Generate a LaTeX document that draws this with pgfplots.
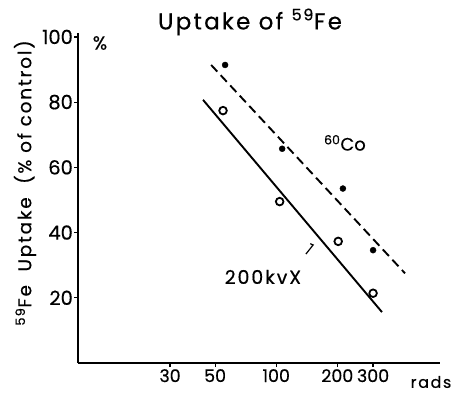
\documentclass[border=0pt]{standalone}
\usepackage{pgfplots}
\pgfplotsset{compat=1.18}
\usepackage{fontspec}
\setmainfont{Poppins}[FakeBold=0.5, AutoFakeBold=0]
\newfontfamily\spaced{Poppins}[LetterSpace=10, FakeBold=0.5]
\newfontfamily\plain{Poppins}[FakeBold=0.5]
\begin{document}
\begin{tikzpicture}[x=1bp,y=1bp]
\useasboundingbox (0,0) rectangle (452,397);
\begin{axis}[
  at={(78bp,34bp)}, anchor=south west,
  scale only axis, width=362bp, height=330bp,
  xmode=log, xmin=10.56, xmax=641, ymin=0, ymax=101.2,
  axis lines=left, axis line style={-, line width=1.9bp},
  xtick={30,50,100,200,300}, xticklabels={30,50,100,200,300},
  minor xtick={},
  ytick={20,40,60,80,100},
  tick style={line width=1.2bp, black}, major tick length=4bp, tick align=outside,
  yticklabel style={font=\plain\fontsize{19.5}{19.5}\selectfont, inner sep=1bp},
  xticklabel style={font=\plain\fontsize{17.5}{17.5}\selectfont, inner sep=2bp},
  /pgf/number format/assume math mode=true,
  clip=false,
]
\addplot[line width=1.9bp] coordinates {(43.6,80.7) (332,15.6)};
\addplot[line width=1.9bp, dash pattern=on 9bp off 5bp] coordinates {(47.8,91.4) (431,27.5)};
\addplot[only marks, mark=*, mark size=3bp, black] coordinates {(56,91.4) (107,65.7) (213,53.5) (300,34.6)};
\addplot[only marks, mark=o, mark size=3.8bp, mark options={line width=1.8bp}, black] coordinates {(54.7,77.4) (104,49.5) (202,37.3) (300,21.4)};
\node[font=\plain\fontsize{18}{18}\selectfont] at (axis cs:218,67.5) {\textsuperscript{60}Co};
\node[font=\spaced\fontsize{19}{19}\selectfont] at (axis cs:86,26.4) {200kvX};
\draw[line width=1.2bp] (axis cs:140,33.4) -- (axis cs:152,36.2) -- (axis cs:147,36.6);
\end{axis}
\node[font=\plain\fontsize{19}{19}\selectfont] at (100,354) {\%};
\node[font=\spaced\fontsize{23}{23}\selectfont] at (250,375) {Uptake of \textsuperscript{59}Fe};
\node[font=\spaced\fontsize{18.5}{18.5}\selectfont, rotate=90] at (25,214) {\textsuperscript{59}Fe\ \ Uptake\ \ (\% of control)};
\node[font=\spaced\fontsize{16}{16}\selectfont, inner sep=1bp] at (431,15) {rads};
\end{tikzpicture}
\end{document}
